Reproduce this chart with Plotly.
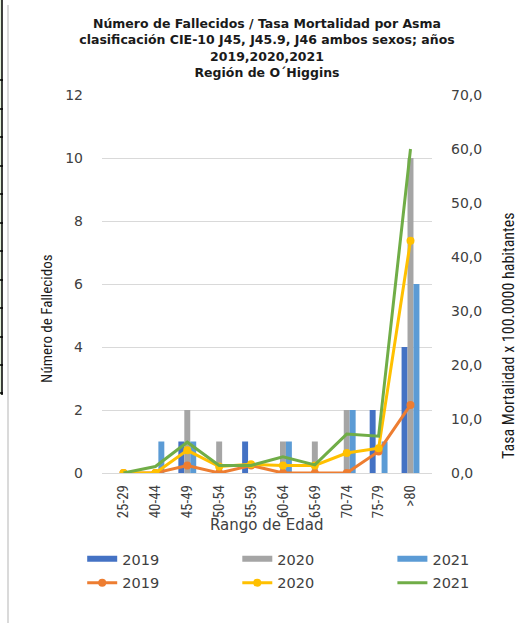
import plotly.graph_objects as go

# Age groups
age_groups = ["25-29", "40-44", "45-49", "50-54", "55-59",
              "60-64", "65-69", "70-74", "75-79", ">80"]

# Number of deaths per year (left axis)
deaths_2019 = [0, 0, 1, 0, 1, 0, 0, 0, 2, 4]
deaths_2020 = [0, 0, 2, 1, 0, 1, 1, 2, 0, 10]
deaths_2021 = [0, 1, 1, 0, 0, 1, 0, 2, 1, 6]

# Mortality rate x 100.000 inhabitants (right axis)
rate_2019 = [0, 0, 1.4, 0, 1.4, 0, 0, 0, 4.0, 12.6]
rate_2020 = [0, 0, 4.2, 1.2, 1.6, 1.4, 1.4, 3.7, 4.6, 43.0]
rate_2021 = [0, 1.2, 5.7, 1.4, 1.4, 3.0, 1.5, 7.2, 6.8, 60.0]

years = ["2019", "2020", "2021"]
bar_colors = ["#4472C4", "#A5A5A5", "#5B9BD5"]
line_colors = ["#ED7D31", "#FFC000", "#70AD47"]
legends = ["legend", "legend2", "legend3"]

NARROW = "Liberation Sans Narrow, Roboto Condensed, Roboto, sans-serif"
WIDE = "DejaVu Sans, Verdana, sans-serif"
TXT = "#404040"

fig = go.Figure()

for yr, vals, col, lg in zip(years, [deaths_2019, deaths_2020, deaths_2021], bar_colors, legends):
    fig.add_trace(go.Bar(x=age_groups, y=vals, name=yr, marker_color=col,
                         marker_line_width=0, showlegend=False, yaxis="y"))
    # flat swatch for the legend row of bars
    fig.add_trace(go.Scatter(x=[None], y=[None], mode="lines", name=yr,
                             line=dict(color=col, width=6), legend=lg,
                             legendgroup="b" + yr, hoverinfo="skip"))

for yr, vals, col, lg in zip(years, [rate_2019, rate_2020, rate_2021], line_colors, legends):
    mode = "lines" if yr == "2021" else "lines+markers"
    fig.add_trace(go.Scatter(x=age_groups, y=vals, name=yr, mode=mode,
                             line=dict(color=col, width=3),
                             marker=dict(color=col, size=8),
                             yaxis="y2", legend=lg, legendgroup="l" + yr))

legend_style = dict(orientation="v", font=dict(family=WIDE, size=14.5, color=TXT),
                    bgcolor="rgba(0,0,0,0)", borderwidth=0, yanchor="top",
                    xanchor="left", y=-0.185, tracegroupgap=2)

fig.update_layout(
    width=517, height=623,
    margin=dict(l=102, r=85, t=95, b=150, autoexpand=False),
    paper_bgcolor="white", plot_bgcolor="white",
    separators=",.",
    barmode="group", bargap=0.44, bargroupgap=0,
    title=dict(
        text="Número de Fallecidos / Tasa Mortalidad por Asma<br>"
             "clasificación CIE-10 J45, J45.9, J46 ambos sexos; años<br>"
             "2019,2020,2021<br>Región de O´Higgins",
        x=0.5, xref="paper", xanchor="center", y=0.955, yanchor="top",
        font=dict(family="DejaVu Sans", size=12.5, color="#1a1a1a", weight="bold"),
    ),
    xaxis=dict(type="category", tickangle=-90, showgrid=False, ticks="",
               tickfont=dict(family=NARROW, size=15, color=TXT),
               showline=True, linecolor="#D9D9D9", linewidth=1,
               ticklabelstandoff=5),
    yaxis=dict(range=[0, 12], dtick=2, showgrid=True, gridcolor="#D9D9D9",
               gridwidth=1, zeroline=False, ticks="",
               tickfont=dict(family=WIDE, size=14, color=TXT),
               ticklabelstandoff=18),
    yaxis2=dict(range=[0, 70], dtick=10, overlaying="y", side="right",
                showgrid=False, zeroline=False, ticks="", tickformat=".1f",
                tickfont=dict(family=WIDE, size=14, color=TXT),
                ticklabelstandoff=18),
    legend=dict(legend_style, x=-0.06),
    legend2=dict(legend_style, x=0.41),
    legend3=dict(legend_style, x=0.88),
    annotations=[
        dict(text="Número de Fallecidos", textangle=-90, xref="paper", yref="paper",
             x=-0.167, y=0.41, showarrow=False, xanchor="center", yanchor="middle",
             font=dict(family=NARROW, size=15, color="#1a1a1a")),
        dict(text="Tasa Mortalidad x 100.0000 habitantes", textangle=-90,
             xref="paper", yref="paper", x=1.23, y=0.365, showarrow=False,
             xanchor="center", yanchor="middle",
             font=dict(family=NARROW, size=16, color="#1a1a1a")),
        dict(text="Rango de Edad", xref="paper", yref="paper", x=0.5, y=-0.1376,
             showarrow=False, xanchor="center", yanchor="middle",
             font=dict(family=WIDE, size=15, color=TXT)),
    ],
)

# Sheet border decoration on the left edge
def px_x(p):
    return (p - 102) / 330.0

def px_y(p):
    return (473 - p) / 378.0

shapes = [
    dict(type="rect", xref="paper", yref="paper", x0=px_x(0), x1=px_x(2),
         y0=px_y(395), y1=px_y(0), fillcolor="#E2F0D9", line_width=0),
    dict(type="line", xref="paper", yref="paper", x0=px_x(2), x1=px_x(2),
         y0=px_y(395), y1=px_y(0), line=dict(color="black", width=1.5)),
    dict(type="line", xref="paper", yref="paper", x0=px_x(8), x1=px_x(8),
         y0=px_y(623), y1=px_y(5), line=dict(color="#DADADA", width=2)),
]
for ty in [80, 109, 137, 166, 194, 223, 251, 280, 308, 337, 365, 393]:
    shapes.append(dict(type="line", xref="paper", yref="paper", x0=px_x(0), x1=px_x(3),
                       y0=px_y(ty), y1=px_y(ty), line=dict(color="black", width=1.5)))
fig.update_layout(shapes=shapes)

fig.write_html("out.html")
